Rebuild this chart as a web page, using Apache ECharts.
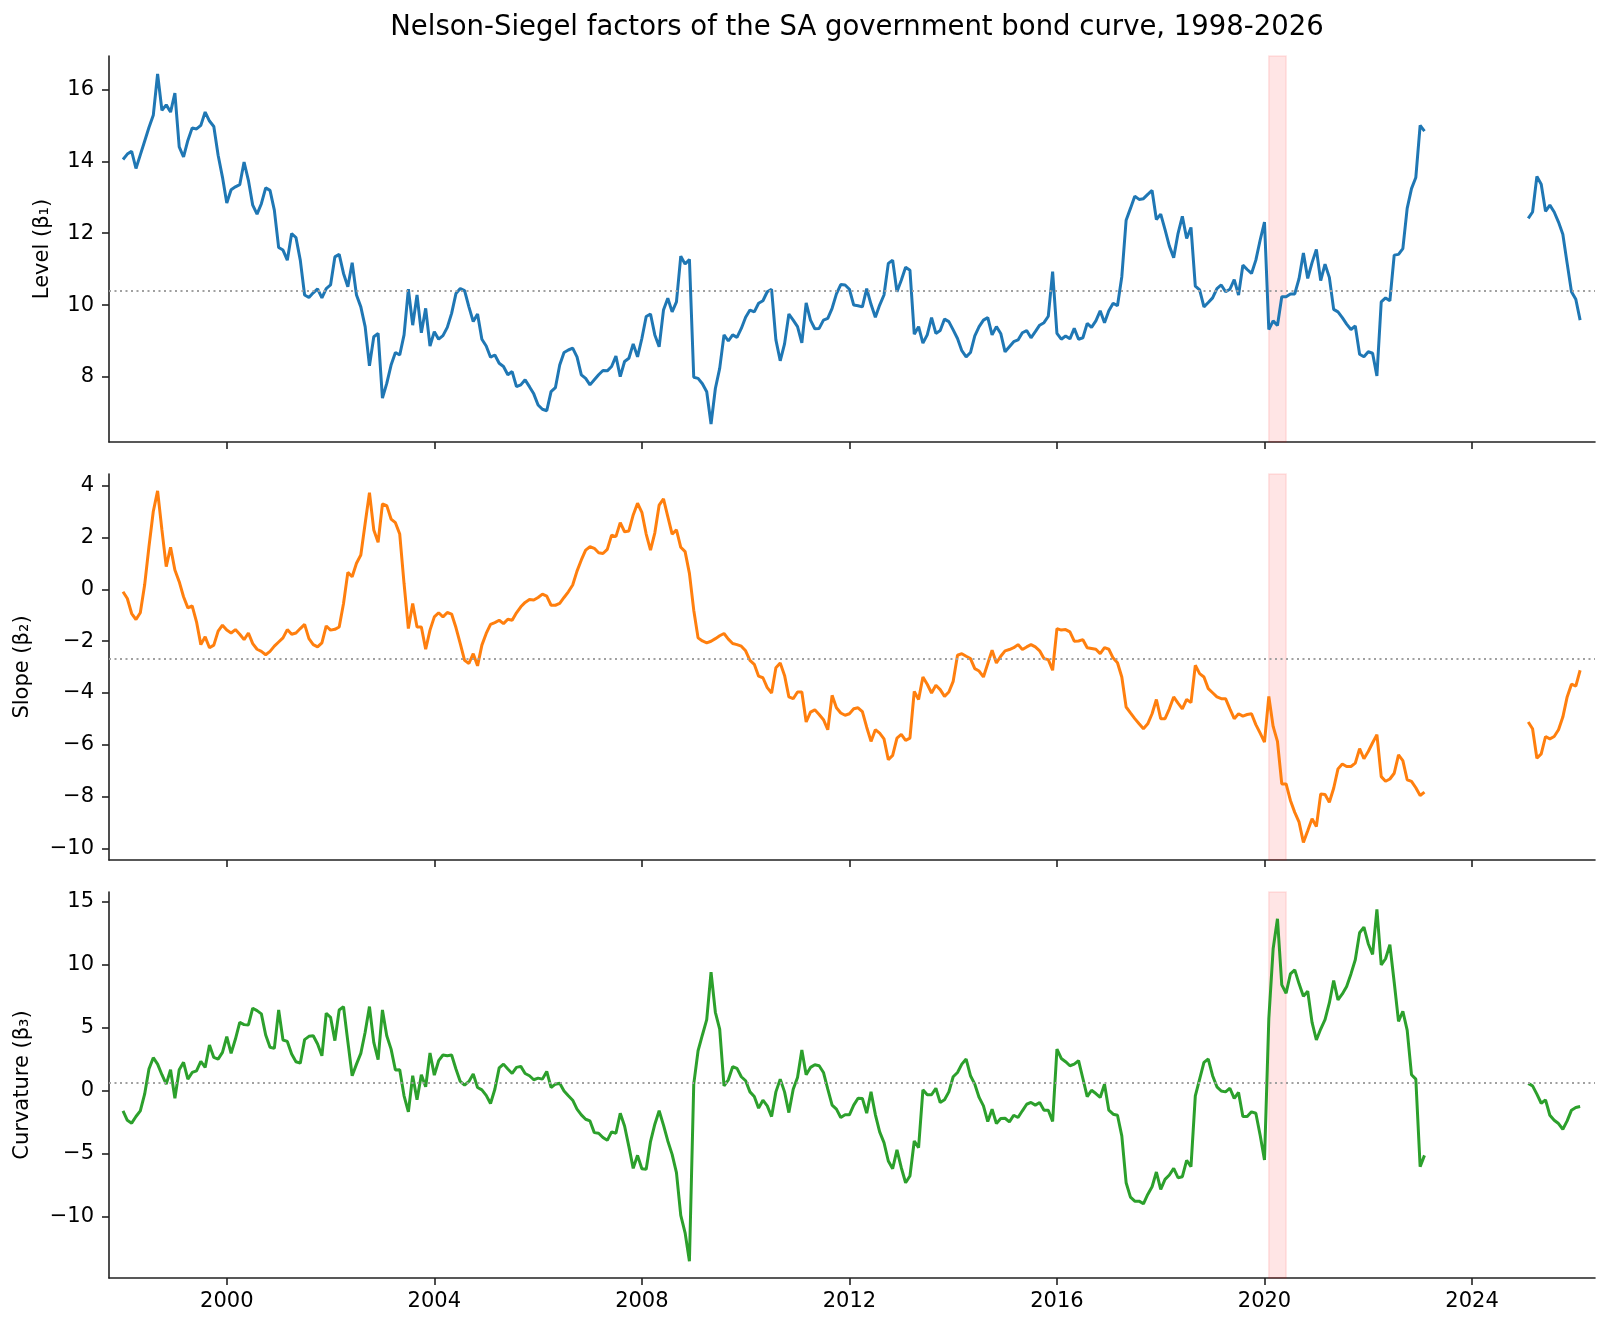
<!DOCTYPE html>
<html>
<head>
<meta charset="utf-8">
<script src="https://cdn.jsdelivr.net/npm/echarts@6/dist/echarts.min.js"></script>
<style>
  html, body { margin: 0; background: #fff; }
  #chart { width: 1609px; height: 1330px; }
</style>
</head>
<body>
<div id="chart"></div>
<script>
// monthly observations, two stretches with a gap between them
var startA = [1998, 1];   // Jan 1998 .. Feb 2023
var startB = [2025, 2];   // Feb 2025 .. Feb 2026

var levelA = [14.05, 14.2, 14.28, 13.8, 14.18, 14.56, 14.94, 15.28, 16.43, 15.42, 15.57, 15.37,
  15.9, 14.4, 14.12, 14.58, 14.93, 14.9, 15.0, 15.37, 15.12, 14.97, 14.17, 13.56,
  12.84, 13.21, 13.29, 13.35, 13.98, 13.47, 12.78, 12.53, 12.82, 13.26, 13.19, 12.64,
  11.6, 11.53, 11.25, 11.99, 11.88, 11.25, 10.28, 10.21, 10.34, 10.45, 10.2, 10.46,
  10.56, 11.34, 11.41, 10.88, 10.51, 11.18, 10.28, 9.95, 9.4, 8.31, 9.12, 9.21,
  7.41, 7.82, 8.33, 8.68, 8.61, 9.17, 10.44, 9.44, 10.28, 9.23, 9.91, 8.86,
  9.26, 9.05, 9.15, 9.38, 9.77, 10.32, 10.46, 10.4, 9.95, 9.54, 9.75, 9.05,
  8.86, 8.55, 8.61, 8.38, 8.29, 8.06, 8.15, 7.73, 7.78, 7.92, 7.73, 7.53,
  7.22, 7.1, 7.06, 7.59, 7.7, 8.33, 8.68, 8.75, 8.8, 8.56, 8.06, 7.96,
  7.78, 7.92, 8.06, 8.18, 8.17, 8.29, 8.58, 8.01, 8.43, 8.52, 8.92, 8.56,
  9.07, 9.68, 9.75, 9.17, 8.84, 9.86, 10.19, 9.81, 10.09, 11.36, 11.14, 11.27,
  7.99, 7.96, 7.81, 7.59, 6.69, 7.68, 8.24, 9.17, 9.0, 9.17, 9.1, 9.35,
  9.66, 9.86, 9.81, 10.05, 10.12, 10.37, 10.44, 9.03, 8.45, 8.92, 9.75, 9.58,
  9.4, 8.95, 10.06, 9.58, 9.34, 9.35, 9.58, 9.63, 9.91, 10.31, 10.57, 10.56,
  10.44, 10.0, 9.98, 9.95, 10.46, 10.02, 9.66, 10.0, 10.28, 11.16, 11.25, 10.37,
  10.69, 11.05, 10.97, 9.19, 9.4, 8.94, 9.17, 9.65, 9.21, 9.29, 9.61, 9.54,
  9.31, 9.07, 8.73, 8.56, 8.68, 9.14, 9.4, 9.58, 9.65, 9.17, 9.4, 9.21,
  8.7, 8.84, 8.98, 9.03, 9.23, 9.29, 9.09, 9.26, 9.44, 9.51, 9.69, 10.93,
  9.21, 9.05, 9.14, 9.06, 9.35, 9.05, 9.09, 9.49, 9.38, 9.56, 9.84, 9.51,
  9.84, 10.05, 9.98, 10.79, 12.36, 12.69, 13.03, 12.94, 12.96, 13.08, 13.19, 12.38,
  12.53, 12.1, 11.64, 11.32, 11.99, 12.47, 11.85, 12.16, 10.53, 10.42, 9.95, 10.07,
  10.2, 10.46, 10.56, 10.37, 10.44, 10.71, 10.28, 11.11, 10.99, 10.88, 11.25, 11.81,
  12.31, 9.32, 9.56, 9.43, 10.23, 10.23, 10.31, 10.31, 10.74, 11.45, 10.74, 11.18,
  11.55, 10.68, 11.14, 10.77, 9.88, 9.81, 9.65, 9.47, 9.32, 9.42, 8.63, 8.56,
  8.7, 8.66, 8.03, 10.09, 10.2, 10.12, 11.39, 11.41, 11.57, 12.69, 13.24, 13.55,
  15.0, 14.84];
var levelB = [12.41, 12.59, 13.58, 13.36, 12.61, 12.78, 12.59, 12.31, 11.97, 11.16, 10.37, 10.16, 9.58];

var slopeA = [-0.09, -0.35, -0.93, -1.16, -0.9, 0.17, 1.65, 3.01, 3.81, 2.3, 0.88, 1.63,
  0.75, 0.3, -0.28, -0.71, -0.63, -1.25, -2.13, -1.83, -2.25, -2.15, -1.61, -1.38,
  -1.57, -1.68, -1.55, -1.73, -1.94, -1.68, -2.09, -2.31, -2.39, -2.52, -2.39, -2.19,
  -2.03, -1.87, -1.55, -1.73, -1.68, -1.51, -1.35, -1.9, -2.13, -2.22, -2.06, -1.41,
  -1.57, -1.54, -1.45, -0.54, 0.66, 0.49, 1.01, 1.33, 2.55, 3.74, 2.3, 1.82,
  3.3, 3.24, 2.72, 2.58, 2.14, 0.23, -1.51, -0.54, -1.45, -1.45, -2.31, -1.57,
  -1.06, -0.9, -1.06, -0.89, -0.95, -1.47, -2.09, -2.74, -2.86, -2.48, -2.95, -2.15,
  -1.7, -1.35, -1.28, -1.19, -1.32, -1.15, -1.19, -0.9, -0.67, -0.5, -0.39, -0.41,
  -0.31, -0.18, -0.26, -0.61, -0.61, -0.54, -0.31, -0.09, 0.17, 0.71, 1.14, 1.52,
  1.65, 1.59, 1.42, 1.39, 1.55, 2.1, 2.04, 2.58, 2.23, 2.26, 2.88, 3.33,
  2.98, 2.14, 1.52, 2.19, 3.26, 3.5, 2.81, 2.14, 2.3, 1.63, 1.46, 0.62,
  -0.8, -1.87, -1.99, -2.06, -2.0, -1.9, -1.79, -1.7, -1.92, -2.09, -2.13, -2.19,
  -2.37, -2.74, -2.89, -3.35, -3.41, -3.79, -4.0, -3.02, -2.84, -3.32, -4.15, -4.22,
  -3.96, -3.96, -5.12, -4.74, -4.65, -4.83, -5.03, -5.42, -4.09, -4.57, -4.77, -4.86,
  -4.8, -4.61, -4.57, -4.72, -5.32, -5.87, -5.42, -5.55, -5.77, -6.58, -6.41, -5.74,
  -5.6, -5.83, -5.74, -3.94, -4.25, -3.38, -3.66, -4.0, -3.7, -3.87, -4.13, -3.96,
  -3.55, -2.54, -2.48, -2.58, -2.67, -3.06, -3.15, -3.38, -2.86, -2.35, -2.84, -2.58,
  -2.37, -2.32, -2.25, -2.13, -2.32, -2.22, -2.13, -2.22, -2.37, -2.67, -2.71, -3.12,
  -1.51, -1.57, -1.55, -1.64, -2.0, -1.99, -1.94, -2.25, -2.28, -2.31, -2.48, -2.25,
  -2.31, -2.65, -2.83, -3.38, -4.54, -4.77, -4.99, -5.19, -5.38, -5.19, -4.8, -4.25,
  -4.99, -4.99, -4.61, -4.15, -4.39, -4.61, -4.25, -4.37, -2.93, -3.25, -3.38, -3.83,
  -3.99, -4.15, -4.22, -4.22, -4.61, -4.99, -4.8, -4.89, -4.83, -4.8, -5.22, -5.55,
  -5.9, -4.13, -5.29, -5.87, -7.51, -7.51, -8.15, -8.61, -8.99, -9.77, -9.32, -8.86,
  -9.16, -7.9, -7.92, -8.22, -7.68, -6.93, -6.74, -6.84, -6.84, -6.71, -6.15, -6.54,
  -6.26, -5.92, -5.61, -7.23, -7.41, -7.32, -7.1, -6.39, -6.61, -7.35, -7.41, -7.66,
  -7.96, -7.83];
var slopeB = [-5.12, -5.38, -6.52, -6.35, -5.68, -5.77, -5.68, -5.42, -4.93, -4.15, -3.66, -3.73, -3.12];

var curvA = [-1.6, -2.35, -2.58, -2.05, -1.6, -0.28, 1.71, 2.61, 2.1, 1.26, 0.51, 1.65,
  -0.6, 1.65, 2.24, 0.91, 1.44, 1.57, 2.31, 1.84, 3.61, 2.63, 2.5, 3.03,
  4.27, 2.95, 4.09, 5.41, 5.23, 5.2, 6.53, 6.34, 6.08, 4.41, 3.43, 3.35,
  6.39, 4.01, 3.9, 2.9, 2.29, 2.18, 4.04, 4.3, 4.35, 3.69, 2.76, 6.13,
  5.81, 3.96, 6.39, 6.66, 3.88, 1.18, 2.1, 2.95, 4.62, 6.66, 3.82, 2.45,
  6.39, 4.35, 3.29, 1.63, 1.65, -0.41, -1.68, 1.18, -0.73, 1.26, 0.3, 2.98,
  1.23, 2.37, 2.82, 2.76, 2.82, 1.71, 0.73, 0.43, 0.73, 1.31, 0.25, 0.06,
  -0.38, -1.02, 0.11, 1.8, 2.1, 1.71, 1.36, 1.84, 1.92, 1.36, 1.18, 0.86,
  0.99, 0.91, 1.52, 0.25, 0.51, 0.59, -0.03, -0.41, -0.76, -1.47, -1.92, -2.27,
  -2.4, -3.33, -3.38, -3.72, -3.94, -3.27, -3.38, -1.79, -2.8, -4.44, -6.16, -5.13,
  -6.19, -6.24, -4.04, -2.66, -1.6, -2.74, -3.99, -5.05, -6.5, -9.89, -11.27, -13.52,
  0.51, 3.16, 4.41, 5.62, 9.39, 6.21, 4.88, 0.38, 0.86, 1.89, 1.76, 1.1,
  0.78, -0.1, -0.47, -1.39, -0.76, -1.21, -2.06, -0.1, 0.91, -0.1, -1.74, 0.11,
  1.04, 3.22, 1.26, 1.84, 2.05, 1.97, 1.44, 0.11, -1.15, -1.47, -2.13, -1.92,
  -1.92, -1.15, -0.6, -0.62, -1.79, -0.1, -1.9, -3.27, -4.12, -5.58, -6.19, -4.7,
  -6.11, -7.3, -6.77, -3.99, -4.52, 0.06, -0.33, -0.33, 0.19, -0.94, -0.73, -0.1,
  1.1, 1.44, 2.1, 2.5, 1.18, 0.51, -0.54, -1.21, -2.45, -1.47, -2.61, -2.21,
  -2.19, -2.48, -1.95, -2.13, -1.6, -1.08, -0.94, -1.15, -0.94, -1.55, -1.55, -2.45,
  3.29, 2.55, 2.29, 1.97, 2.1, 2.37, 0.96, -0.47, 0.03, -0.23, -0.54, 0.51,
  -1.55, -1.87, -1.95, -3.59, -7.3, -8.44, -8.76, -8.76, -8.97, -8.23, -7.62, -6.45,
  -7.83, -7.03, -6.69, -6.16, -6.9, -6.82, -5.52, -6.03, -0.41, 0.91, 2.24, 2.5,
  1.18, 0.3, -0.03, -0.1, 0.19, -0.62, -0.15, -2.06, -2.06, -1.68, -1.79, -3.54,
  -5.5, 5.68, 11.24, 13.62, 8.38, 7.72, 9.25, 9.57, 8.46, 7.48, 7.88, 5.41,
  4.01, 4.88, 5.62, 6.95, 8.72, 7.19, 7.66, 8.25, 9.25, 10.37, 12.51, 12.96,
  11.64, 10.79, 14.36, 9.97, 10.45, 11.56, 8.59, 5.49, 6.29, 4.8, 1.26, 0.91,
  -6.03, -5.13];
var curvB = [0.57, 0.38, -0.28, -1.0, -0.73, -1.95, -2.35, -2.61, -3.06, -2.4, -1.55, -1.34, -1.26];

var factorNames = ['Level (\u03b2\u2081)', 'Slope (\u03b2\u2082)', 'Curvature (\u03b2\u2083)'];
var factorMeans = [10.40, -2.66, 0.62];
var yTicks = [[8, 10, 12, 14, 16], [-10, -8, -6, -4, -2, 0, 2, 4], [-10, -5, 0, 5, 10, 15]];
var yRanges = [[6.19, 16.93], [-10.45, 4.46], [-14.85, 15.74]];
var xTicks = [2000, 2004, 2008, 2012, 2016, 2020, 2024];
var covidBand = [2020 + 1 / 12, 2020 + 5 / 12];   // Feb - May 2020

var colors = ['#1f77b4', '#ff7f0e', '#2ca02c'];
var font = 'DejaVu Sans';
var axisColor = '#222';

function stretch(start, vals) {
  return vals.map(function (v, k) {
    return [start[0] + (start[1] - 1 + k) / 12, v];
  });
}
function joined(a, b) {
  return stretch(startA, a).concat([[2024, '-']]).concat(stretch(startB, b));
}
var seriesData = [joined(levelA, levelB), joined(slopeA, slopeB), joined(curvA, curvB)];

function fmt(v) {
  return v < 0 ? '\u2212' + Math.abs(v) : String(v);
}

var tops = [56, 474, 892];
var grids = [], xAxes = [], yAxes = [], series = [];
for (var k = 0; k < 3; k++) {
  grids.push({ left: 109, right: 14, top: tops[k], height: 386 });
  xAxes.push({
    type: 'value', gridIndex: k, min: 1997.73, max: 2026.37,
    axisLine: { onZero: false, lineStyle: { color: axisColor, width: 1.6 } },
    axisTick: { customValues: xTicks, length: 7, lineStyle: { color: axisColor, width: 1.6 } },
    axisLabel: {
      show: k === 2, customValues: xTicks, margin: 13,
      formatter: function (v) { return String(v); },
      color: '#000', fontFamily: font, fontSize: 21
    },
    splitLine: { show: false }
  });
  yAxes.push({
    type: 'value', gridIndex: k, min: yRanges[k][0], max: yRanges[k][1],
    name: factorNames[k], nameLocation: 'middle', nameGap: k === 0 ? 56 : 76,
    nameTextStyle: { color: '#000', fontFamily: font, fontSize: 21 },
    axisLine: { show: true, onZero: false, lineStyle: { color: axisColor, width: 1.6 } },
    axisTick: { show: true, customValues: yTicks[k], length: 7, lineStyle: { color: axisColor, width: 1.6 } },
    axisLabel: {
      customValues: yTicks[k], margin: 15, formatter: fmt,
      color: '#000', fontFamily: font, fontSize: 21
    },
    splitLine: { show: false }
  });
  series.push({
    type: 'line', xAxisIndex: k, yAxisIndex: k,
    data: seriesData[k],
    symbol: 'none', connectNulls: false,
    lineStyle: { color: colors[k], width: 3 },
    markLine: {
      silent: true, symbol: ['none', 'none'],
      label: { show: false },
      lineStyle: { color: '#a0a0a0', width: 2, type: [2, 3.5] },
      data: [{ yAxis: factorMeans[k] }]
    },
    markArea: {
      silent: true,
      itemStyle: { color: 'rgba(255,0,0,0.1)', borderColor: 'rgba(255,0,0,0.1)', borderWidth: 1.5 },
      data: [[{ xAxis: covidBand[0] }, { xAxis: covidBand[1] }]]
    }
  });
}

var chart = echarts.init(document.getElementById('chart'));
chart.setOption({
  animation: false,
  backgroundColor: '#fff',
  title: {
    text: 'Nelson-Siegel factors of the SA government bond curve, 1998-2026',
    left: 852, top: 9, textAlign: 'center',
    textStyle: { color: '#000', fontFamily: font, fontSize: 27.5, fontWeight: 'normal' }
  },
  grid: grids,
  xAxis: xAxes,
  yAxis: yAxes,
  series: series
});
</script>
</body>
</html>
